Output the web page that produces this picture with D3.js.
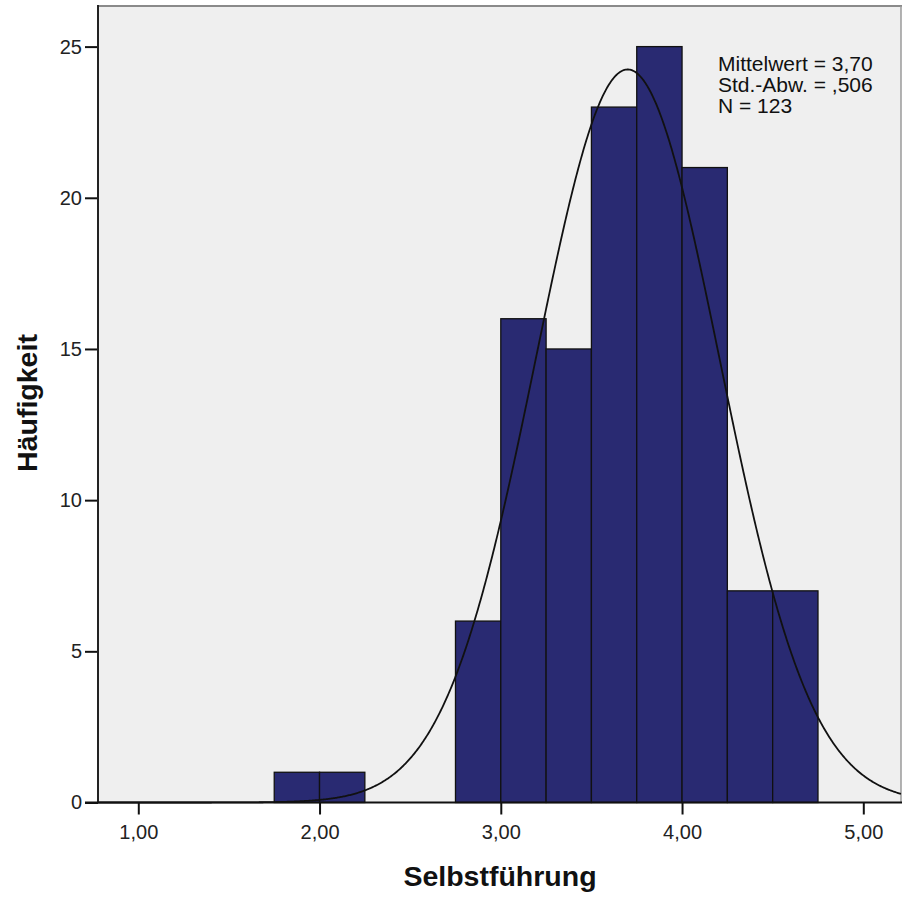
<!DOCTYPE html>
<html>
<head>
<meta charset="utf-8">
<script src="https://cdn.jsdelivr.net/npm/d3@7"></script>
<style>
  html, body { margin: 0; padding: 0; background: #ffffff; }
  svg { display: block; }
  text { font-family: "Liberation Sans", Arial, sans-serif; }
</style>
</head>
<body>
<svg id="chart" width="902" height="897"></svg>
<script>
// ---- data ----
const binStarts = [1.75, 2.00, 2.75, 3.00, 3.25, 3.50, 3.75, 4.00, 4.25, 4.50];
const binCounts = [1, 1, 6, 16, 15, 23, 25, 21, 7, 7];
const binWidth = 0.25;
const xTicks = [1, 2, 3, 4, 5];
const yTicks = [0, 5, 10, 15, 20, 25];
const statMean = 3.70;
const statSd = 0.506;
const statN = 123;
const statLines = ["Mittelwert = 3,70", "Std.-Abw. = ,506", "N = 123"];
const xTitle = "Selbstführung";
const yTitle = "Häufigkeit";

// ---- layout ----
const plot = { left: 98, top: 7, right: 901, bottom: 802.5 };
const svg = d3.select("#chart");

const x = d3.scaleLinear().domain([0.7777, 5.208]).range([plot.left, plot.right]);
const y = d3.scaleLinear().domain([0, 26.31]).range([plot.bottom, plot.top]);

// plot background
svg.append("rect")
  .attr("x", plot.left).attr("y", plot.top)
  .attr("width", plot.right - plot.left).attr("height", plot.bottom - plot.top)
  .attr("fill", "#efefef");

// frame top / right (grey)
svg.append("line").attr("x1", plot.left).attr("x2", plot.right + 1)
  .attr("y1", plot.top - 1).attr("y2", plot.top - 1)
  .attr("stroke", "#8a8a8a").attr("stroke-width", 2);
svg.append("line").attr("x1", plot.right).attr("x2", plot.right)
  .attr("y1", plot.top - 1).attr("y2", plot.bottom)
  .attr("stroke", "#9a9a9a").attr("stroke-width", 1.5);

// bars
svg.append("g").selectAll("rect")
  .data(binStarts.map((s, i) => ({ s, c: binCounts[i] })))
  .join("rect")
  .attr("x", d => x(d.s))
  .attr("y", d => y(d.c))
  .attr("width", d => x(d.s + binWidth) - x(d.s))
  .attr("height", d => y(0) - y(d.c))
  .attr("fill", "#292a72")
  .attr("stroke", "#111111")
  .attr("stroke-width", 1.3);

// normal curve from stated mean / sd / N
const scaleF = statN * binWidth / (statSd * Math.sqrt(2 * Math.PI));
const curvePts = d3.range(x.domain()[0], x.domain()[1], 0.005)
  .map(v => [v, scaleF * Math.exp(-0.5 * Math.pow((v - statMean) / statSd, 2))]);
svg.append("path")
  .datum(curvePts)
  .attr("fill", "none")
  .attr("stroke", "#111111")
  .attr("stroke-width", 1.8)
  .attr("d", d3.line().x(d => x(d[0])).y(d => y(d[1])));

// axes
const fmt = d => d.toFixed(2).replace(".", ",");
const yAxis = svg.append("g")
  .attr("transform", `translate(${plot.left},0)`)
  .call(d3.axisLeft(y).tickValues(yTicks).tickSize(13).tickPadding(3).tickFormat(d3.format("d")));
const xAxis = svg.append("g")
  .attr("transform", `translate(0,${plot.bottom})`)
  .call(d3.axisBottom(x).tickValues(xTicks).tickSize(12).tickPadding(6).tickFormat(fmt));
[yAxis, xAxis].forEach(g => {
  g.select(".domain").remove();
  g.selectAll(".tick line").attr("stroke", "#111").attr("stroke-width", 2);
  g.selectAll(".tick text")
    .attr("fill", "#222")
    .style("font-size", "20px")
    .style("font-family", '"Liberation Sans", Arial, sans-serif');
});
xAxis.selectAll(".tick text").attr("dy", "0.9em");

// axis lines
svg.append("line").attr("x1", plot.left).attr("x2", plot.left)
  .attr("y1", plot.top - 2).attr("y2", plot.bottom)
  .attr("stroke", "#222").attr("stroke-width", 2);
svg.append("line").attr("x1", plot.left - 13).attr("x2", plot.right + 1)
  .attr("y1", plot.bottom).attr("y2", plot.bottom)
  .attr("stroke", "#111").attr("stroke-width", 2);

// stats annotation
const st = svg.append("text")
  .attr("x", 718).attr("y", 71)
  .attr("fill", "#111")
  .style("font-size", "21px");
statLines.forEach((t, i) => {
  st.append("tspan").attr("x", 718).attr("y", 71 + i * 21).text(t);
});

// axis titles
svg.append("text")
  .attr("x", 500).attr("y", 886)
  .attr("text-anchor", "middle")
  .attr("fill", "#111")
  .style("font-size", "28.5px").style("font-weight", "bold")
  .text(xTitle);
svg.append("text")
  .attr("transform", "translate(37,403) rotate(-90)")
  .attr("text-anchor", "middle")
  .attr("fill", "#111")
  .style("font-size", "28.5px").style("font-weight", "bold")
  .text(yTitle);
</script>
</body>
</html>
